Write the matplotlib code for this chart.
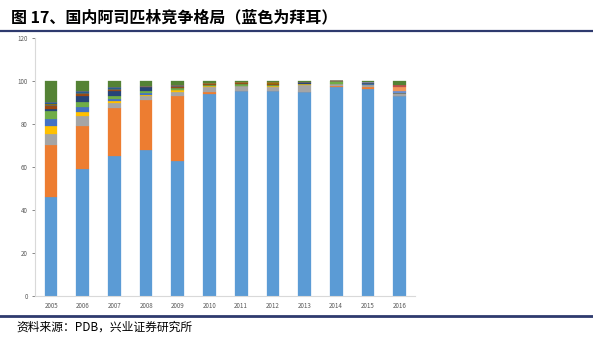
import matplotlib
matplotlib.use("Agg")
import matplotlib.pyplot as plt
import numpy as np

plt.rcParams['font.family'] = ['Noto Sans CJK SC', 'DejaVu Sans']

years = ['2005', '2006', '2007', '2008', '2009', '2010',
         '2011', '2012', '2013', '2014', '2015', '2016']

# market share (%) per company, bottom to top; first series is Bayer
bayer     = [46.0, 59.0, 65.0, 68.0, 63.0, 94.0, 95.3, 95.3, 95.0, 97.0, 96.3, 93.2]
company2  = [24.0, 20.0, 22.3, 23.2, 30.0, 1.0, 0.0, 0.0, 0.0, 0.7, 0.7, 0.0]
company3  = [5.5, 4.5, 2.3, 1.8, 2.0, 2.0, 2.2, 2.0, 3.0, 1.0, 1.0, 1.1]
company4  = [3.5, 2.0, 1.1, 0.7, 0.8, 0.5, 0.3, 0.5, 0.5, 0.0, 0.0, 0.0]
company5  = [3.5, 2.5, 1.0, 0.8, 0.0, 0.0, 0.0, 0.0, 0.3, 0.0, 0.5, 0.0]
company6  = [3.5, 2.3, 1.5, 1.0, 0.7, 0.5, 0.8, 0.5, 0.0, 1.3, 0.0, 0.0]
company7  = [1.0, 2.5, 2.0, 1.5, 0.0, 0.0, 0.0, 0.0, 0.5, 0.0, 0.5, 0.0]
company8  = [1.5, 1.0, 0.5, 0.3, 0.8, 0.5, 0.5, 0.5, 0.0, 0.0, 0.0, 0.0]
company9  = [0.5, 0.5, 0.5, 0.2, 0.7, 0.0, 0.0, 0.0, 0.0, 0.0, 0.0, 0.0]
company10 = [0.5, 0.3, 0.2, 0.0, 0.3, 0.5, 0.4, 0.5, 0.0, 0.0, 0.0, 0.0]
company11 = [0.5, 0.9, 0.6, 0.0, 0.0, 0.0, 0.0, 0.0, 0.0, 0.0, 0.0, 0.0]
company13 = [0.0, 0.0, 0.0, 0.0, 0.0, 0.0, 0.0, 0.0, 0.0, 0.0, 0.5, 1.2]
company14 = [0.0, 0.0, 0.0, 0.0, 0.0, 0.0, 0.0, 0.0, 0.0, 0.0, 0.0, 1.7]
company15 = [0.0, 0.0, 0.0, 0.0, 0.0, 0.0, 0.0, 0.0, 0.0, 0.0, 0.0, 1.0]
company12 = [10.0, 4.5, 3.0, 2.5, 1.7, 1.0, 0.5, 0.7, 0.7, 0.0, 0.5, 1.8]

series = [bayer, company2, company3, company4, company5, company6, company7,
          company8, company9, company10, company11, company13, company14,
          company15, company12]
colors = ['#5B9BD5', '#ED7D31', '#A5A5A5', '#FFC000', '#4472C4', '#70AD47',
          '#264478', '#9E480E', '#636363', '#997300', '#255E91', '#698ED0',
          '#F1975A', '#C0504D', '#548235']

fig = plt.figure(figsize=(5.93, 3.39), dpi=100)

# title and header rule
fig.text(0.018, 0.948, '图 17、国内阿司匹林竞争格局（蓝色为拜耳）',
         fontsize=11.5, fontweight='bold', va='center', ha='left')
fig.add_artist(plt.Line2D([0.0, 1.0], [0.908, 0.908], color='#2E3A6E', lw=1.6))

ax = fig.add_axes([0.0595, 0.127, 0.641, 0.761])
x = np.arange(len(years))
bottom = np.zeros(len(years))
for vals, c in zip(series, colors):
    vals = np.array(vals)
    ax.bar(x, vals, 0.4, bottom=bottom, color=c, edgecolor=c, linewidth=0.2)
    bottom += vals

ax.set_xlim(-0.5, 11.5)
ax.set_ylim(0, 120)
ax.set_yticks(range(0, 121, 20))
ax.set_xticks(x)
ax.set_xticklabels(years)
ax.tick_params(axis='both', labelsize=4.5, colors='#595959', length=2, width=0.5)
ax.tick_params(axis='x', length=0, pad=4)
for s in ['top', 'right']:
    ax.spines[s].set_visible(False)
for s in ['left', 'bottom']:
    ax.spines[s].set_color('#D9D9D9')
    ax.spines[s].set_linewidth(0.8)

# footer
fig.add_artist(plt.Line2D([0.0, 1.0], [0.067, 0.067], color='#2E3A6E', lw=2.0))
fig.text(0.027, 0.035, '资料来源：PDB，兴业证券研究所', fontsize=8.5,
         va='center', ha='left')

fig.savefig('out.png', dpi=100)
